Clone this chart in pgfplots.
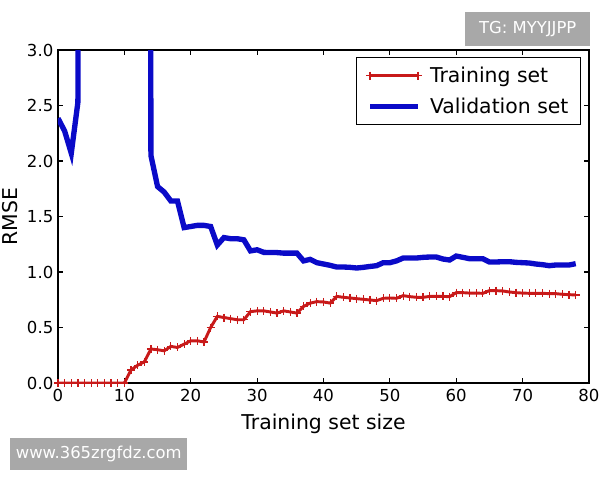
\documentclass[border=0pt]{standalone}
\usepackage{pgfplots}
\pgfplotsset{compat=1.18}
\usepackage{fontspec}
\setmainfont{DejaVu Sans}
\definecolor{tr}{RGB}{200,25,25}
\definecolor{va}{RGB}{10,10,200}
\definecolor{wm}{RGB}{168,168,168}
\begin{document}
\begin{tikzpicture}
\path[use as bounding box] (-43.5pt,-72.75pt) rectangle (406.5pt,287.25pt);
\begin{axis}[
  scale only axis, width=398.25pt, height=249.75pt,
  at={(0,0)}, anchor=south west,
  xmin=0, xmax=80, ymin=0, ymax=3,
  xtick={0,10,...,80}, ytick={0,0.5,...,3.0},
  tick align=inside, tick pos=both,
  major tick length=3.5pt,
  tick style={black, line width=0.8pt},
  axis line style={line width=0.9pt},
  /pgf/number format/assume math mode=true,
  yticklabel style={/pgf/number format/.cd, fixed, fixed zerofill, precision=1},
  ticklabel style={font=\fontsize{12.4}{14}\selectfont},
  xticklabel style={yshift=-1pt},
  label style={font=\fontsize{15.3}{18}\selectfont},
  xlabel={Training set size},
  ylabel={RMSE},
  xlabel style={at={(axis description cs:0.5,-0.123)}, anchor=center},
  ylabel style={at={(axis description cs:-0.0904,0.5)}, anchor=center},
  legend style={at={(axis description cs:1,1)}, anchor=north east, xshift=-6pt, yshift=-5.25pt,
    draw=black, line width=0.8pt, font=\fontsize{15.3}{18}\selectfont,
    inner xsep=7pt, inner ysep=5pt, row sep=6pt, column sep=4pt},
  legend cell align=left,
  legend image code/.code={\draw[#1] plot coordinates {(0pt,0pt) (36pt,0pt)};},
]
\addplot[tr, line width=2.2pt, mark=+, mark size=3pt, mark options={line width=0.9pt}] coordinates {
(0,0) (1,0) (2,0) (3,0) (4,0) (5,0) (6,0) (7,0) (8,0) (9,0) (10,0)
(11,0.117) (12,0.16) (13,0.19) (14,0.306) (15,0.30) (16,0.29) (17,0.33) (18,0.32) (19,0.35) (20,0.38)
(21,0.38) (22,0.37) (23,0.50) (24,0.60) (25,0.59) (26,0.58) (27,0.57) (28,0.57) (29,0.643) (30,0.65)
(31,0.65) (32,0.64) (33,0.63) (34,0.65) (35,0.64) (36,0.63) (37,0.69) (38,0.72) (39,0.733) (40,0.73)
(41,0.72) (42,0.78) (43,0.772) (44,0.766) (45,0.76) (46,0.754) (47,0.748) (48,0.742) (49,0.763) (50,0.766)
(51,0.763) (52,0.787) (53,0.778) (54,0.772) (55,0.772) (56,0.78) (57,0.78) (58,0.78) (59,0.778) (60,0.814)
(61,0.814) (62,0.81) (63,0.81) (64,0.808) (65,0.832) (66,0.832) (67,0.829) (68,0.82) (69,0.814) (70,0.81)
(71,0.808) (72,0.808) (73,0.808) (74,0.805) (75,0.805) (76,0.799) (77,0.796) (78,0.793)
};
\addlegendentry{Training set}
\addplot[va, line width=4pt, no marks] coordinates {
(0,2.385) (1,2.27) (2,2.07) (3,2.53) (4,40) (5,40) (6,40) (7,40) (8,40) (9,40) (10,40) (11,40) (12,40) (13,40)
(14,2.05) (15,1.77) (16,1.72) (17,1.64) (18,1.64) (19,1.40) (20,1.41)
(21,1.42) (22,1.42) (23,1.41) (24,1.243) (25,1.31) (26,1.30) (27,1.30) (28,1.29) (29,1.19) (30,1.20)
(31,1.177) (32,1.175) (33,1.175) (34,1.17) (35,1.17) (36,1.17) (37,1.10) (38,1.114) (39,1.084) (40,1.072)
(41,1.06) (42,1.045) (43,1.045) (44,1.042) (45,1.036) (46,1.042) (47,1.05) (48,1.057) (49,1.084) (50,1.084)
(51,1.10) (52,1.126) (53,1.126) (54,1.126) (55,1.132) (56,1.135) (57,1.135) (58,1.117) (59,1.108) (60,1.144)
(61,1.132) (62,1.12) (63,1.12) (64,1.12) (65,1.09) (66,1.09) (67,1.093) (68,1.093) (69,1.087) (70,1.084)
(71,1.081) (72,1.072) (73,1.066) (74,1.057) (75,1.063) (76,1.063) (77,1.063) (78,1.075)
};
\addlegendentry{Validation set}
\end{axis}
% watermarks
\node[fill=wm, text=white, anchor=north west, minimum width=93.75pt, minimum height=25.5pt, inner sep=0pt,
  font=\fontsize{12.3}{14}\selectfont] at (305.25pt,278.25pt) {TG: MYYJJPP};
\node[fill=wm, text=white, anchor=north west, minimum width=132.75pt, minimum height=24pt, inner sep=0pt,
  font=\fontsize{12.3}{14}\selectfont] at (-36pt,-41.25pt) {www.365zrgfdz.com};
\end{tikzpicture}
\end{document}
